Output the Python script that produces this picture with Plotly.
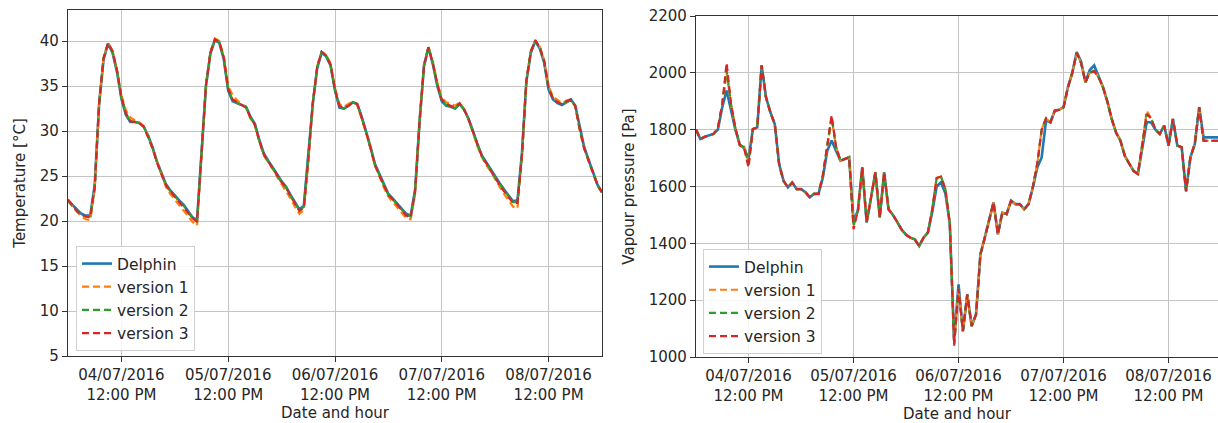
import pandas as pd
import plotly.graph_objects as go

# ---------------- data ----------------
times = pd.date_range("2016-07-04 00:00", periods=121, freq="h")

temp_delphin = [
    22.3, 21.8, 21.2, 20.8, 20.6, 20.6, 24.0, 33.0, 38.0, 39.7, 38.7, 36.6, 33.6, 31.8, 31.0, 31.0, 30.9, 30.5, 29.5, 28.2, 26.6, 25.3, 24.1, 23.4, 22.8,
    22.3, 21.8, 21.1, 20.4, 20.1, 27.5, 35.0, 38.6, 40.1, 39.8, 38.0, 34.5, 33.3, 33.1, 32.9, 32.7, 31.6, 30.8, 29.0, 27.5, 26.7, 26.0, 25.2, 24.4,
    23.8, 22.9, 22.1, 21.3, 21.7, 27.0, 33.0, 37.0, 38.7, 38.3, 37.3, 34.5, 32.6, 32.5, 32.8, 33.2, 33.0, 31.6, 30.0, 28.2, 26.3, 25.2, 24.0, 23.0,
    22.5, 21.9, 21.3, 20.8, 20.6, 23.5, 31.0, 37.2, 39.3, 37.4, 35.0, 33.3, 32.8, 32.7, 32.5, 33.0, 32.4, 31.4, 30.0, 28.5, 27.3, 26.5, 25.8, 24.9,
    24.2, 23.5, 22.8, 22.2, 22.3, 27.5, 35.5, 38.7, 40.0, 39.2, 37.6, 34.6, 33.5, 33.1, 32.9, 33.2, 33.5, 32.8, 30.3, 28.2, 26.8, 25.4, 24.0, 23.2,
]
temp_v1 = [
    22.2, 21.6, 21.0, 20.5, 20.2, 20.1, 23.5, 33.2, 38.2, 39.8, 38.9, 36.8, 34.0, 32.3, 31.5, 31.2, 31.0, 30.5, 29.4, 28.0, 26.4, 25.0, 23.8, 23.0, 22.4,
    21.8, 21.2, 20.5, 19.9, 19.5, 27.0, 35.0, 38.8, 40.3, 40.0, 38.3, 35.0, 34.0, 33.4, 33.0, 32.6, 31.4, 30.6, 28.8, 27.3, 26.5, 25.8, 24.9, 24.1,
    23.4, 22.5, 21.6, 20.8, 21.2, 26.5, 33.0, 37.2, 38.8, 38.5, 37.5, 34.8, 33.0, 32.7, 33.0, 33.3, 32.9, 31.4, 29.8, 28.0, 26.1, 25.0, 23.7, 22.7,
    22.1, 21.5, 20.8, 20.3, 20.2, 23.0, 31.0, 37.4, 39.4, 37.7, 35.4, 33.7, 33.2, 33.0, 32.8, 33.2, 32.4, 31.3, 29.8, 28.3, 27.1, 26.2, 25.5, 24.6,
    23.8, 23.0, 22.3, 21.6, 21.4, 27.0, 35.5, 38.9, 40.1, 39.4, 37.9, 35.0, 33.8, 33.4, 33.1, 33.4, 33.5, 32.7, 30.1, 28.0, 26.6, 25.2, 23.9, 23.1,
]
temp_v2 = [
    22.3, 21.7, 21.1, 20.7, 20.5, 20.5, 23.8, 33.1, 38.1, 39.7, 38.8, 36.7, 33.7, 31.9, 31.1, 31.0, 30.9, 30.5, 29.5, 28.1, 26.5, 25.2, 24.0, 23.3, 22.7,
    22.2, 21.7, 21.0, 20.3, 20.0, 27.3, 35.0, 38.7, 40.1, 39.9, 38.1, 34.6, 33.4, 33.1, 32.9, 32.7, 31.5, 30.7, 28.9, 27.4, 26.6, 25.9, 25.1, 24.3,
    23.7, 22.8, 22.0, 21.2, 21.6, 26.9, 33.0, 37.1, 38.8, 38.4, 37.3, 34.6, 32.7, 32.5, 32.8, 33.2, 33.0, 31.5, 29.9, 28.1, 26.2, 25.1, 23.9, 22.9,
    22.4, 21.8, 21.2, 20.7, 20.5, 23.3, 31.0, 37.3, 39.3, 37.5, 35.1, 33.4, 32.9, 32.7, 32.5, 33.0, 32.4, 31.3, 29.9, 28.4, 27.2, 26.4, 25.7, 24.8,
    24.1, 23.4, 22.7, 22.1, 22.1, 27.3, 35.5, 38.8, 40.0, 39.3, 37.7, 34.7, 33.6, 33.2, 32.9, 33.2, 33.5, 32.8, 30.2, 28.1, 26.7, 25.3, 24.0, 23.2,
]
temp_v3 = [
    22.4, 21.8, 21.1, 20.7, 20.5, 20.4, 23.7, 33.2, 38.1, 39.8, 38.9, 36.8, 33.8, 32.0, 31.1, 31.0, 30.9, 30.5, 29.4, 28.1, 26.5, 25.2, 24.0, 23.3, 22.7,
    22.2, 21.6, 21.0, 20.3, 19.9, 27.2, 35.1, 38.7, 40.2, 39.9, 38.2, 34.7, 33.5, 33.2, 32.9, 32.6, 31.5, 30.7, 28.9, 27.4, 26.6, 25.9, 25.1, 24.3,
    23.7, 22.8, 21.9, 21.1, 21.5, 26.8, 33.1, 37.1, 38.8, 38.4, 37.4, 34.6, 32.8, 32.6, 32.8, 33.2, 33.0, 31.5, 29.9, 28.1, 26.2, 25.0, 23.9, 22.9,
    22.4, 21.8, 21.1, 20.6, 20.4, 23.2, 31.1, 37.3, 39.3, 37.5, 35.2, 33.5, 33.0, 32.8, 32.6, 33.1, 32.4, 31.3, 29.9, 28.4, 27.2, 26.4, 25.6, 24.7,
    24.0, 23.3, 22.6, 22.0, 22.0, 27.2, 35.6, 38.8, 40.1, 39.3, 37.8, 34.8, 33.6, 33.2, 33.0, 33.3, 33.5, 32.8, 30.2, 28.1, 26.7, 25.3, 24.0, 23.2,
]

vap_delphin = [
    1800, 1767, 1775, 1781, 1785, 1800, 1879, 1938, 1870, 1800, 1748, 1735, 1697, 1802, 1808, 2026, 1914, 1861, 1820, 1679, 1620, 1597, 1614, 1591, 1591,
    1580, 1562, 1574, 1574, 1632, 1726, 1762, 1726, 1691, 1697, 1703, 1479, 1515, 1667, 1474, 1560, 1650, 1491, 1650, 1520, 1500, 1475, 1448, 1430,
    1420, 1414, 1391, 1420, 1438, 1510, 1600, 1615, 1575, 1470, 1060, 1256, 1091, 1220, 1109, 1150, 1361, 1420, 1480, 1544, 1432, 1508, 1503, 1550,
    1538, 1538, 1520, 1538, 1597, 1667, 1702, 1832, 1826, 1867, 1870, 1879, 1949, 2000, 2073, 2040, 1967, 2010, 2026, 1985, 1950, 1900, 1838, 1790,
    1761, 1708, 1680, 1655, 1644, 1738, 1826, 1826, 1800, 1785, 1814, 1744, 1838, 1744, 1738, 1585, 1703, 1750, 1879, 1773, 1773, 1773, 1773, 1773,
]
vap_v1 = [
    1800, 1767, 1775, 1781, 1785, 1805, 1890, 2000, 1890, 1805, 1745, 1740, 1690, 1802, 1808, 2026, 1914, 1861, 1820, 1679, 1620, 1597, 1614, 1591, 1591,
    1580, 1562, 1574, 1574, 1640, 1740, 1840, 1740, 1691, 1697, 1703, 1465, 1515, 1667, 1474, 1560, 1650, 1491, 1650, 1520, 1500, 1475, 1448, 1430,
    1420, 1414, 1391, 1420, 1438, 1520, 1630, 1635, 1590, 1470, 1050, 1240, 1091, 1220, 1109, 1150, 1361, 1420, 1480, 1544, 1432, 1508, 1503, 1550,
    1538, 1538, 1520, 1538, 1600, 1680, 1800, 1840, 1826, 1867, 1870, 1879, 1949, 2000, 2070, 2035, 1967, 2000, 2010, 1985, 1950, 1900, 1838, 1790,
    1761, 1708, 1680, 1655, 1644, 1745, 1867, 1840, 1800, 1785, 1814, 1744, 1838, 1744, 1738, 1585, 1703, 1750, 1879, 1761, 1761, 1761, 1761, 1761,
]
vap_v2 = [
    1800, 1767, 1775, 1781, 1785, 1805, 1890, 2010, 1890, 1805, 1745, 1738, 1680, 1802, 1808, 2026, 1914, 1861, 1820, 1679, 1620, 1597, 1614, 1591, 1591,
    1580, 1562, 1574, 1574, 1640, 1740, 1845, 1740, 1691, 1697, 1703, 1460, 1515, 1667, 1474, 1560, 1650, 1491, 1650, 1520, 1500, 1475, 1448, 1430,
    1420, 1414, 1391, 1420, 1438, 1520, 1630, 1635, 1590, 1470, 1045, 1240, 1091, 1220, 1109, 1150, 1361, 1420, 1480, 1544, 1432, 1508, 1503, 1550,
    1538, 1538, 1520, 1538, 1600, 1680, 1800, 1840, 1826, 1867, 1870, 1879, 1949, 2000, 2070, 2035, 1967, 2000, 2008, 1985, 1950, 1900, 1838, 1790,
    1761, 1708, 1680, 1655, 1644, 1745, 1855, 1840, 1800, 1785, 1814, 1744, 1838, 1744, 1738, 1585, 1703, 1750, 1879, 1761, 1761, 1761, 1761, 1761,
]
vap_v3 = [
    1800, 1767, 1775, 1781, 1785, 1805, 1890, 2035, 1890, 1805, 1745, 1735, 1667, 1802, 1808, 2026, 1914, 1861, 1820, 1679, 1620, 1597, 1614, 1591, 1591,
    1580, 1562, 1574, 1574, 1640, 1740, 1850, 1740, 1691, 1697, 1703, 1450, 1515, 1667, 1474, 1560, 1650, 1491, 1650, 1520, 1500, 1475, 1448, 1430,
    1420, 1414, 1391, 1420, 1438, 1520, 1630, 1635, 1590, 1470, 1040, 1240, 1091, 1220, 1109, 1150, 1361, 1420, 1480, 1544, 1432, 1508, 1503, 1550,
    1538, 1538, 1520, 1538, 1600, 1680, 1800, 1840, 1826, 1867, 1870, 1879, 1949, 2000, 2070, 2035, 1967, 2000, 2005, 1985, 1950, 1900, 1838, 1790,
    1761, 1708, 1680, 1655, 1644, 1745, 1855, 1840, 1800, 1785, 1814, 1744, 1838, 1744, 1738, 1582, 1703, 1750, 1879, 1761, 1761, 1761, 1761, 1761,
]

series_names = ["Delphin", "version 1", "version 2", "version 3"]
tick_dates = ["2016-07-04 12:00", "2016-07-05 12:00", "2016-07-06 12:00", "2016-07-07 12:00", "2016-07-08 12:00"]
tick_labels = ["04/07/2016<br>12:00 PM", "05/07/2016<br>12:00 PM", "06/07/2016<br>12:00 PM",
               "07/07/2016<br>12:00 PM", "08/07/2016<br>12:00 PM"]

# ---------------- styles ----------------
colors = ["#1f77b4", "#ff7f0e", "#2ca02c", "#d62728"]
FONT = "DejaVu Sans"
TXT = "#262626"
GRID = "#c4c4c4"
SPINE = "#333333"
W, H = 1218, 423

fig = go.Figure()

temp_sets = [temp_delphin, temp_v1, temp_v2, temp_v3]
vap_sets = [vap_delphin, vap_v1, vap_v2, vap_v3]

for i, (name, ys) in enumerate(zip(series_names, temp_sets)):
    fig.add_trace(go.Scatter(
        x=times, y=ys, mode="lines", name=name, xaxis="x", yaxis="y", legend="legend",
        line=dict(color=colors[i], width=2.6 if i == 0 else 2.2,
                  dash="solid" if i == 0 else "7px,4px")))

for i, (name, ys) in enumerate(zip(series_names, vap_sets)):
    fig.add_trace(go.Scatter(
        x=times, y=ys, mode="lines", name=name, xaxis="x2", yaxis="y2", legend="legend2",
        line=dict(color=colors[i], width=2.6 if i == 0 else 2.2,
                  dash="solid" if i == 0 else "7px,4px")))

common_x = dict(
    type="date", tickvals=tick_dates, ticktext=tick_labels,
    showgrid=True, gridcolor=GRID, gridwidth=1.2,
    showline=True, linecolor=SPINE, linewidth=1.3, mirror=True,
    ticks="outside", ticklen=5, tickcolor=SPINE,
    tickfont=dict(family=FONT, size=15, color=TXT),
    title=dict(text="Date and hour", font=dict(family=FONT, size=15, color=TXT), standoff=4),
    zeroline=False, automargin=False,
)
common_y = dict(
    showgrid=True, gridcolor=GRID, gridwidth=1.2,
    showline=True, linecolor=SPINE, linewidth=1.3,
    ticks="outside", ticklen=5, tickcolor=SPINE,
    tickfont=dict(family=FONT, size=15, color=TXT),
    zeroline=False, automargin=False,
)

legend_common = dict(
    xanchor="left", yanchor="top",
    bgcolor="rgba(255,255,255,0.85)", bordercolor="#d0d0d0", borderwidth=1,
    font=dict(family=FONT, size=15.5, color=TXT), tracegroupgap=0,
    entrywidth=88, entrywidthmode="pixels",
)

fig.update_layout(
    width=W, height=H,
    margin=dict(l=0, r=0, t=0, b=0, autoexpand=False),
    paper_bgcolor="white", plot_bgcolor="white",
    font=dict(family=FONT, size=15, color=TXT),
    xaxis=dict(common_x, domain=[68 / W, 602 / W], anchor="y",
               range=["2016-07-04 00:00", "2016-07-09 00:00"]),
    yaxis=dict(common_y, domain=[1 - 356 / H, 1 - 10 / H], anchor="x",
               range=[5, 43.45], tick0=5, dtick=5, mirror=True,
               title=dict(text="Temperature [°C]", font=dict(family=FONT, size=15, color=TXT), standoff=10)),
    xaxis2=dict(common_x, domain=[696 / W, 1.0], anchor="y2",
                range=["2016-07-04 00:00", "2016-07-08 23:18"]),
    yaxis2=dict(common_y, domain=[1 - 357 / H, 1 - 16 / H], anchor="x2",
                range=[1000, 2200], tick0=1000, dtick=200, mirror=False,
                title=dict(text="Vapour pressure [Pa]", font=dict(family=FONT, size=15, color=TXT), standoff=10)),
    legend=dict(legend_common, x=76 / W, y=1 - 246 / H),
    legend2=dict(legend_common, x=703 / W, y=1 - 249 / H),
)

fig.write_html("out.html")
